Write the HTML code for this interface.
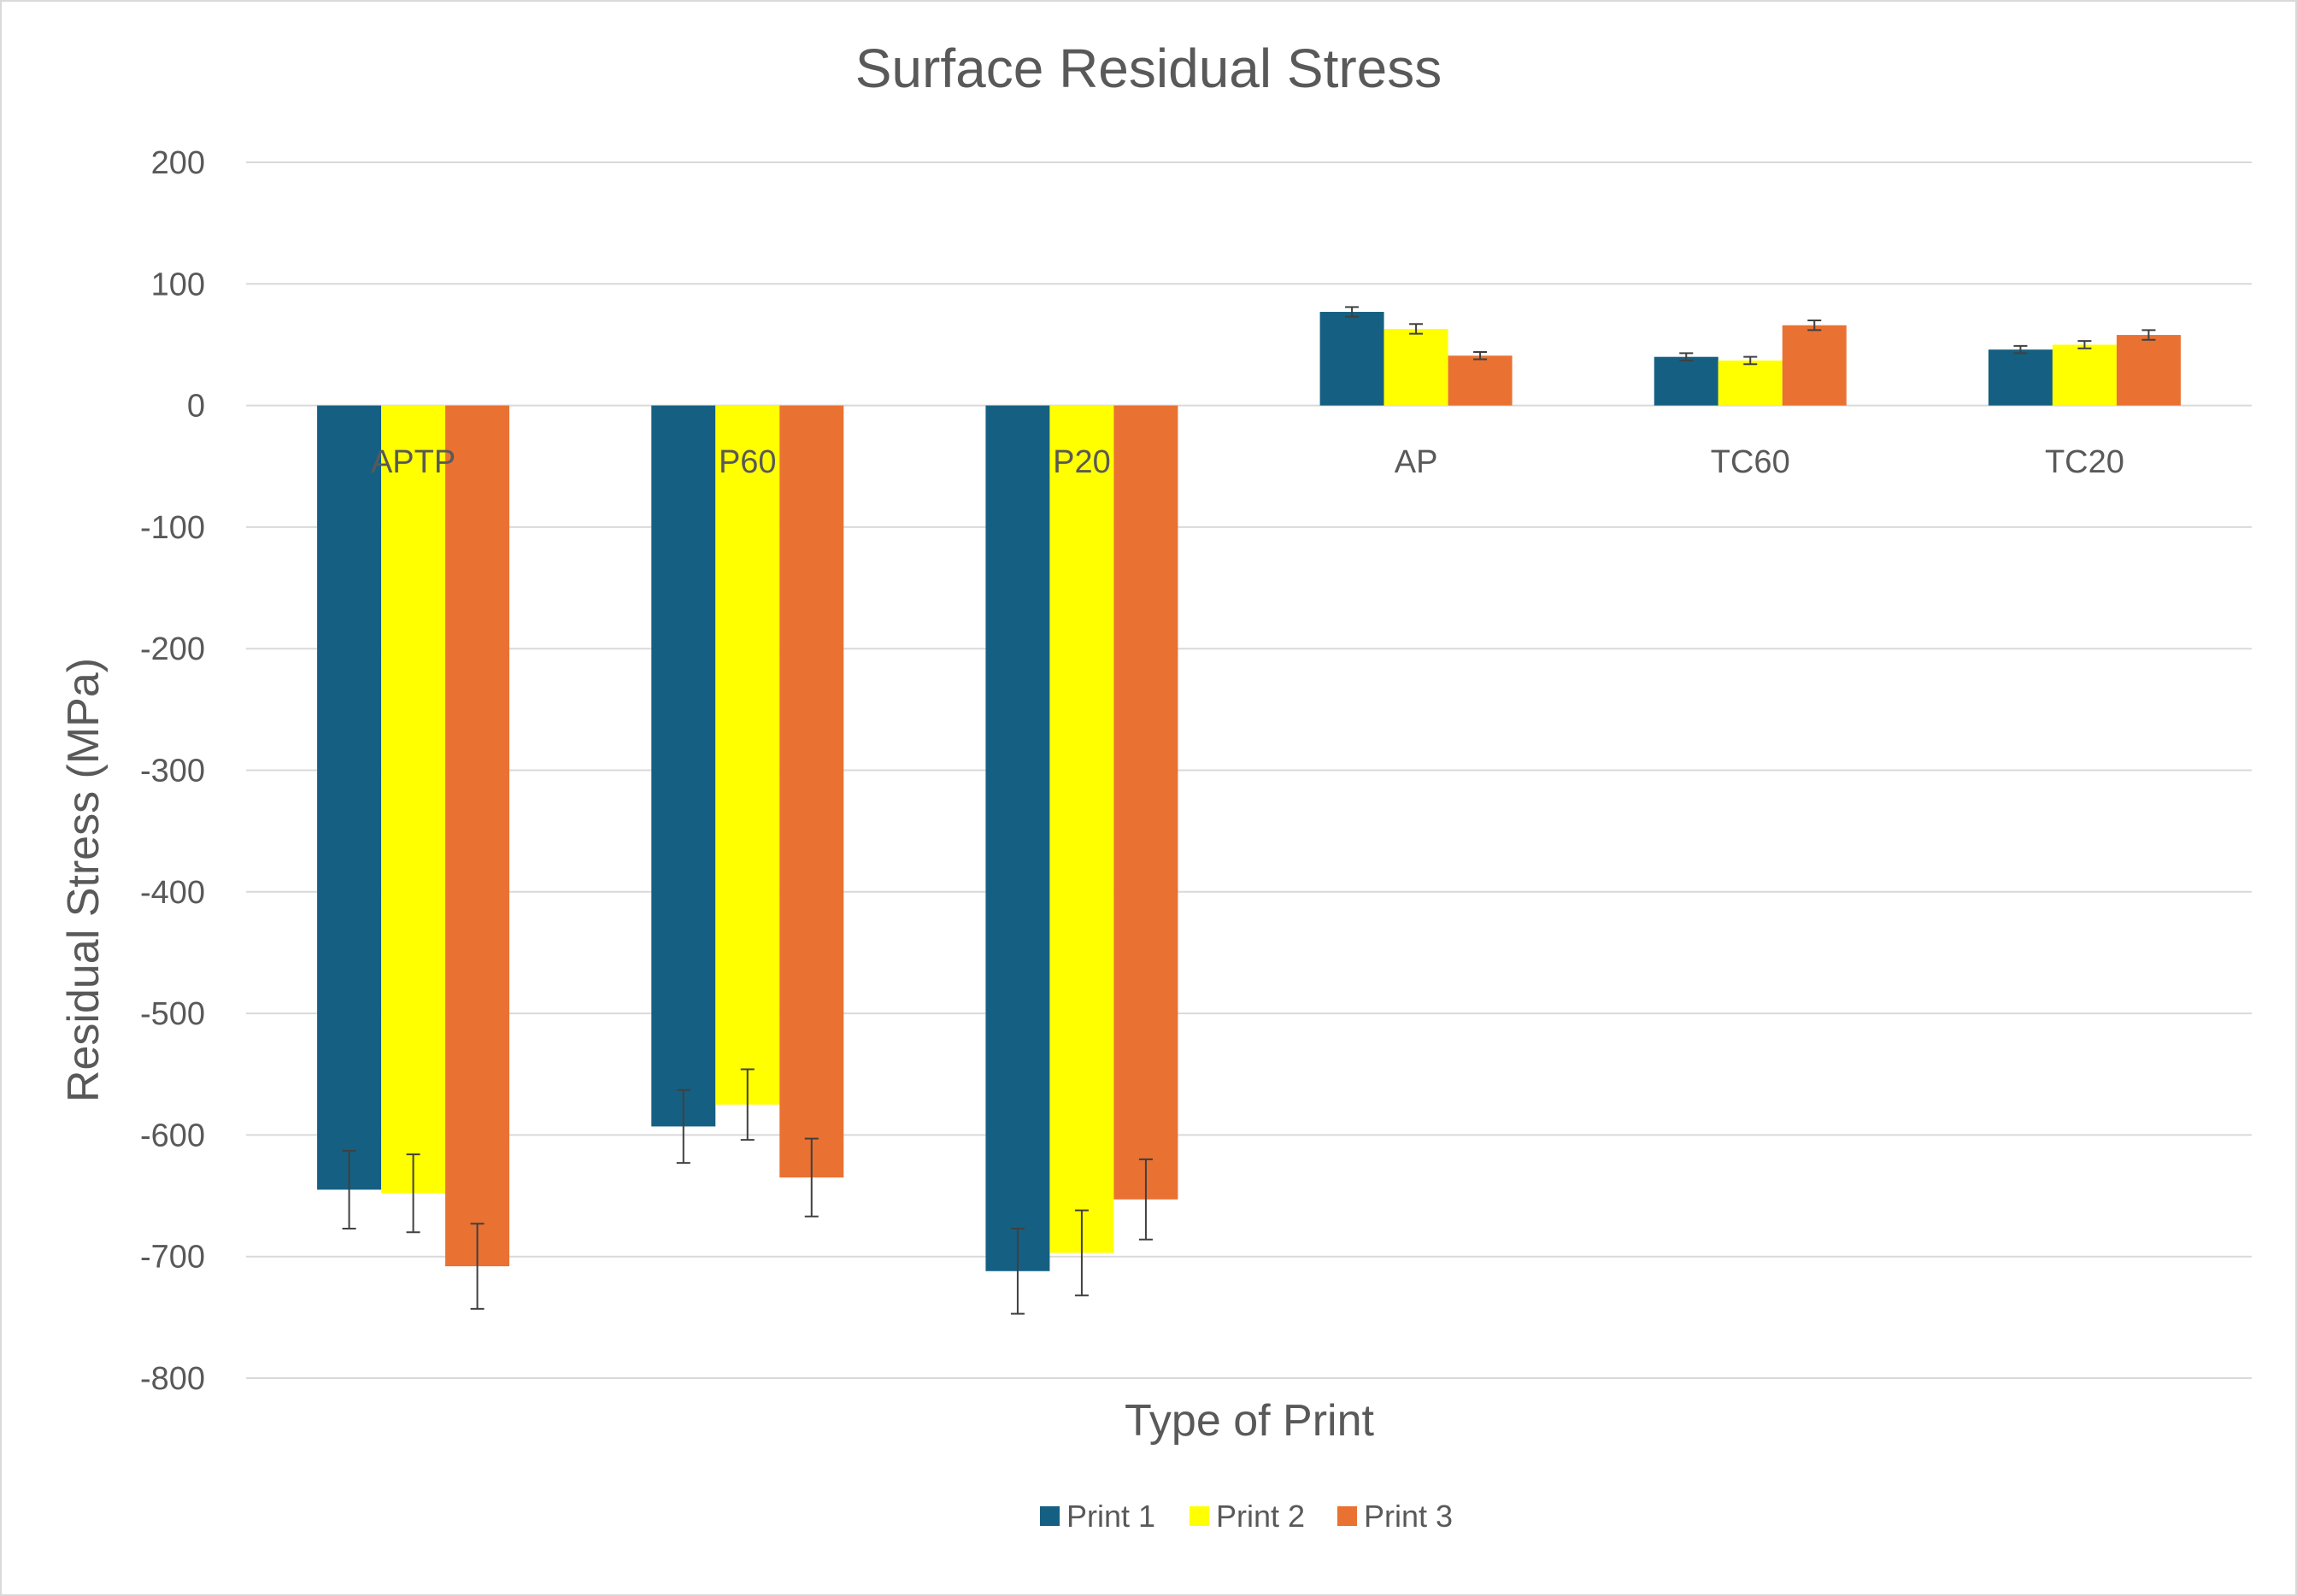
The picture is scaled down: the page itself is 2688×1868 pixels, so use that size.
<!DOCTYPE html>
<html><head><meta charset="utf-8"><style>
html,body{margin:0;padding:0;background:#fff}
svg{display:block;font-family:"Liberation Sans",Arial,sans-serif}
</style></head><body>
<svg id="chart" width="2688" height="1868" viewBox="0 0 2688 1868">
<rect x="1" y="1" width="2686" height="1866" fill="#fff" stroke="#d9d9d9" stroke-width="2"/>
<text x="1344" y="102" text-anchor="middle" font-size="64" fill="#595959">Surface Residual Stress</text>
<g id="grid"></g>
<g id="yticks"></g>
<g id="bars"></g>
<g id="errs"></g>
<g id="xlabels"></g>
<text transform="translate(115,1030) rotate(-90)" text-anchor="middle" font-size="52" fill="#595959">Residual Stress (MPa)</text>
<text x="1462" y="1680" text-anchor="middle" font-size="52" fill="#595959">Type of Print</text>
<g id="legend"></g>
</svg>
<script>
const categories = ["APTP","P60","P20","AP","TC60","TC20"];
const seriesNames = ["Print 1","Print 2","Print 3"];
const print1 = [-645,-593,-712,77,40,46];
const print2 = [-648,-575,-697,63,37,50];
const print3 = [-708,-635,-653,41,66,58];
const err1 = [32,30,35,4,3,3];
const err2 = [32,29,35,4,3,3];
const err3 = [35,32,33,3,4,4];
const yTicks = [200,100,0,-100,-200,-300,-400,-500,-600,-700,-800];
const colors = ["#156082","#FFFF00","#E97132"];
const NS="http://www.w3.org/2000/svg";
const L=288,R=2635,T=190,B=1613,yMax=200,yMin=-800;
const y=v=>T+(yMax-v)/(yMax-yMin)*(B-T);
const cw=(R-L)/categories.length;
const xc=i=>L+cw*(i+0.5);
const bw=75;
function mk(tag,attrs,parent){const e=document.createElementNS(NS,tag);for(const k in attrs)e.setAttribute(k,attrs[k]);parent.appendChild(e);return e;}
const grid=document.getElementById('grid'),yt=document.getElementById('yticks');
yTicks.forEach(v=>{
  const l=mk('line',{x1:L,x2:R,y1:y(v),y2:y(v),stroke:'#d9d9d9','stroke-width':2},grid);
  
  
  const t=mk('text',{x:240,y:y(v)+13,'text-anchor':'end','font-size':38,fill:'#595959'},yt);
  t.textContent=v;
  
  
});
const series=[print1,print2,print3],errs=[err1,err2,err3];
const bars=document.getElementById('bars'),eg=document.getElementById('errs');
series.forEach((s,si)=>{
  s.forEach((v,i)=>{
    const x=xc(i)+(si-1.5)*bw;
    const r=mk('rect',{x:x,y:Math.min(y(v),y(0)),width:bw,height:Math.abs(y(v)-y(0)),fill:colors[si]},bars);
    
    
    const cx=x+bw/2,e=errs[si][i];
    const g=mk('path',{d:`M${cx},${y(v+e)}V${y(v-e)}M${cx-8},${y(v+e)}H${cx+8}M${cx-8},${y(v-e)}H${cx+8}`,stroke:'#404040','stroke-width':2,fill:'none'},eg);
    
    
  });
});
const xl=document.getElementById('xlabels');
categories.forEach((c,i)=>{
  const t=mk('text',{x:xc(i),y:553,'text-anchor':'middle','font-size':38,fill:'#595959'},xl);
  t.textContent=c;
  
  
});
const lg=document.getElementById('legend');
const lx=[1217,1392,1565];
seriesNames.forEach((n,i)=>{
  const r=mk('rect',{x:lx[i],y:1763,width:23,height:23,fill:colors[i]},lg);
  
  
  const t=mk('text',{x:lx[i]+31,y:1787,'font-size':36,fill:'#595959'},lg);
  t.textContent=n;
  
  
});
</script>
</body></html>
